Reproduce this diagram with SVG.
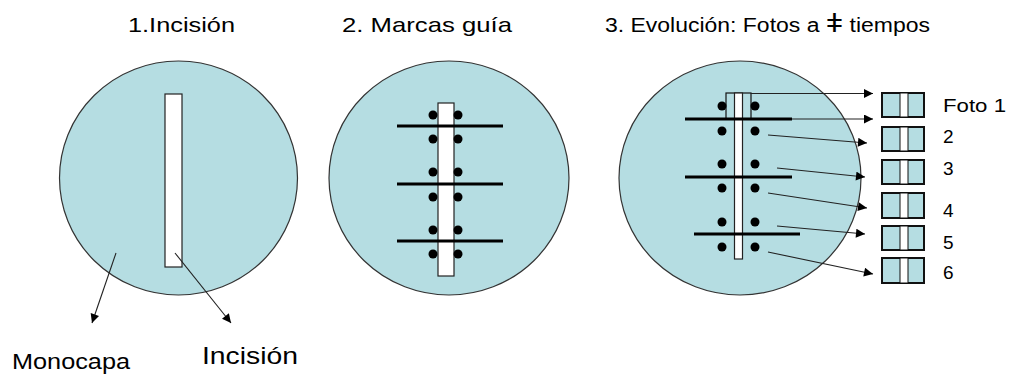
<svg xmlns="http://www.w3.org/2000/svg" width="1010" height="377" viewBox="0 0 1010 377">
<style>
.dish{fill:#b5dde2;stroke:#333;stroke-width:1.2}
.cut{fill:#fff;stroke:#222;stroke-width:1.2}
.mark{stroke:#000;stroke-width:3}
.dot{fill:#000}
.lbl{font-family:"Liberation Sans",Arial,sans-serif;fill:#000}
.con{stroke:#222;stroke-width:1.1;fill:none;marker-end:url(#ah)}
.photo{fill:#b5dde2;stroke:#111;stroke-width:2}
.strip{fill:#fff;stroke:#111;stroke-width:1}
</style>
<defs>
<marker id="ah" viewBox="0 0 10 10" refX="10" refY="5" markerWidth="11" markerHeight="9" markerUnits="userSpaceOnUse" orient="auto">
<path d="M0,0 L10,5 L0,10 z" fill="#000"/>
</marker>
</defs>
<rect width="1010" height="377" fill="#fff"/>

<g id="titles">
<text class="lbl" x="128" y="32" font-size="21" textLength="107" lengthAdjust="spacingAndGlyphs">1.Incisión</text>
<text class="lbl" x="342" y="32" font-size="21" textLength="170" lengthAdjust="spacingAndGlyphs">2. Marcas guía</text>
<text class="lbl" x="605" y="32" font-size="20" textLength="325" lengthAdjust="spacingAndGlyphs">3. Evolución: Fotos a <tspan font-size="26">ǂ</tspan> tiempos</text>
</g>

<g id="dish1">
<ellipse class="dish" cx="178.5" cy="178" rx="119" ry="117"/>
<rect class="cut" x="165" y="94" width="17" height="173"/>
</g>

<g id="dish2">
<ellipse class="dish" cx="449" cy="178" rx="120" ry="117"/>
<rect class="cut" x="438" y="103" width="16" height="173"/>
<line class="mark" x1="397" y1="126" x2="503" y2="126"/>
<line class="mark" x1="397" y1="184" x2="503" y2="184"/>
<line class="mark" x1="397" y1="241" x2="503" y2="241"/>
<g class="dot">
<circle cx="433" cy="115" r="4.5"/><circle cx="458" cy="115" r="4.5"/>
<circle cx="433" cy="139" r="4.5"/><circle cx="458" cy="139" r="4.5"/>
<circle cx="433" cy="172" r="4.5"/><circle cx="458" cy="172" r="4.5"/>
<circle cx="433" cy="197" r="4.5"/><circle cx="458" cy="197" r="4.5"/>
<circle cx="433" cy="230" r="4.5"/><circle cx="458" cy="230" r="4.5"/>
<circle cx="433" cy="254" r="4.5"/><circle cx="458" cy="254" r="4.5"/>
</g>
</g>

<g id="dish3">
<ellipse class="dish" cx="740" cy="178" rx="121" ry="117"/>
<rect x="726" y="93" width="25" height="26" fill="none" stroke="#111" stroke-width="1.2"/>
<rect class="cut" x="734.5" y="93" width="8" height="166"/>
<line class="mark" x1="685" y1="119" x2="792" y2="119"/>
<line class="mark" x1="685" y1="177" x2="792" y2="177"/>
<line class="mark" x1="694" y1="234" x2="800" y2="234"/>
<g class="dot">
<circle cx="722" cy="106" r="4.5"/><circle cx="755" cy="106" r="4.5"/>
<circle cx="722" cy="131" r="4.5"/><circle cx="755" cy="131" r="4.5"/>
<circle cx="722" cy="164" r="4.5"/><circle cx="755" cy="164" r="4.5"/>
<circle cx="722" cy="188" r="4.5"/><circle cx="755" cy="188" r="4.5"/>
<circle cx="722" cy="222" r="4.5"/><circle cx="755" cy="222" r="4.5"/>
<circle cx="722" cy="247" r="4.5"/><circle cx="755" cy="247" r="4.5"/>
</g>
</g>

<g id="photo1"><rect class="photo" x="882" y="93" width="42" height="24"/><rect class="strip" x="900" y="93" width="8" height="24"/><text class="lbl" x="943" y="112" font-size="19" textLength="63" lengthAdjust="spacingAndGlyphs">Foto 1</text></g>
<g id="photo2"><rect class="photo" x="882" y="127" width="42" height="24"/><rect class="strip" x="900" y="127" width="8" height="24"/><text class="lbl" x="943" y="143" font-size="19">2</text></g>
<g id="photo3"><rect class="photo" x="882" y="160" width="42" height="24"/><rect class="strip" x="900" y="160" width="8" height="24"/><text class="lbl" x="943" y="175" font-size="19">3</text></g>
<g id="photo4"><rect class="photo" x="882" y="193" width="42" height="25"/><rect class="strip" x="900" y="193" width="8" height="25"/><text class="lbl" x="943" y="217" font-size="19">4</text></g>
<g id="photo5"><rect class="photo" x="882" y="226" width="42" height="24"/><rect class="strip" x="900" y="226" width="8" height="24"/><text class="lbl" x="943" y="249" font-size="19">5</text></g>
<g id="photo6"><rect class="photo" x="882" y="258" width="42" height="25"/><rect class="strip" x="900" y="258" width="8" height="25"/><text class="lbl" x="943" y="279" font-size="19">6</text></g>

<g id="label-monocapa"><text class="lbl" x="12" y="369" font-size="22" textLength="118" lengthAdjust="spacingAndGlyphs">Monocapa</text></g>
<g id="label-incision"><text class="lbl" x="202" y="364" font-size="24" textLength="96" lengthAdjust="spacingAndGlyphs">Incisión</text></g>

<g id="connectors">
<line class="con" x1="116" y1="253" x2="92" y2="323"/>
<line class="con" x1="175" y1="253" x2="231" y2="323"/>
<line class="con" x1="751" y1="93.5" x2="873" y2="93.5"/>
<line class="con" x1="792" y1="119" x2="873" y2="119"/>
<line class="con" x1="768" y1="135" x2="867" y2="143"/>
<line class="con" x1="777" y1="168" x2="865" y2="177"/>
<line class="con" x1="768" y1="193" x2="867" y2="208"/>
<line class="con" x1="777" y1="226" x2="865" y2="234"/>
<line class="con" x1="768" y1="252" x2="873" y2="274"/>
</g>
</svg>
